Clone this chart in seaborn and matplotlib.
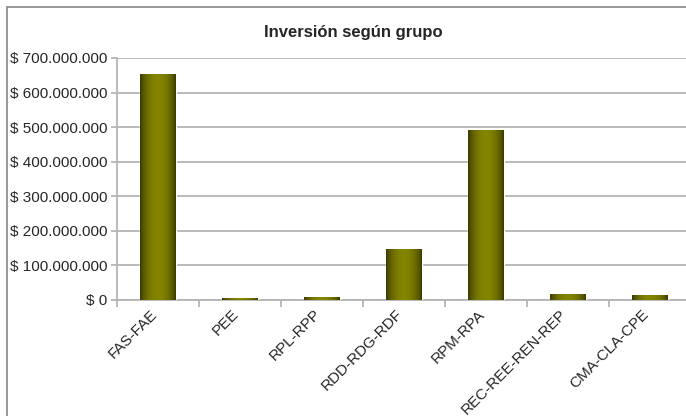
import numpy as np
import matplotlib
matplotlib.use("Agg")
import matplotlib.pyplot as plt
import matplotlib.transforms as mtransforms
from matplotlib.patches import Rectangle
import pandas as pd
import seaborn as sns

# Datos del gráfico
grupos = ["FAS-FAE", "PEE", "RPL-RPP", "RDD-RDG-RDF", "RPM-RPA", "REC-REE-REN-REP", "CMA-CLA-CPE"]
inversion = [652000000, 5500000, 8500000, 147000000, 489000000, 17000000, 14000000]
ticks_y = [0, 100000000, 200000000, 300000000, 400000000, 500000000, 600000000, 700000000]

df = pd.DataFrame({"grupo": grupos, "inversion": inversion})

sns.set_style("white")
plt.rcParams["font.family"] = ["Liberation Sans", "DejaVu Sans"]

fig = plt.figure(figsize=(6.86, 4.16), dpi=100)
ax = fig.add_axes([117 / 686, 1 - 300 / 416, (691 - 117) / 686, 242 / 416])

sns.barplot(data=df, x="grupo", y="inversion", color="#808000", width=0.43, ax=ax, zorder=3)

# Degradado oscuro-claro-oscuro en cada barra
t = np.linspace(0, 1, 64)
perfil = np.sin(np.pi * t) ** 0.7
oscuro = np.array([0.22, 0.22, 0.0])
claro = np.array([0.52, 0.52, 0.0])
grad = oscuro[None, :] + (claro - oscuro)[None, :] * perfil[:, None]
grad = grad[None, :, :]
for p in ax.patches:
    x0, w, h = p.get_x(), p.get_width(), p.get_height()
    ax.imshow(grad, extent=[x0, x0 + w, 0, h], aspect="auto", zorder=4)

ax.set_xlim(-0.5, len(grupos) - 0.5)
ax.set_ylim(0, 700000000)

# Ejes y cuadrícula
gris = "#b4b4b4"
ax.set_yticks(ticks_y)
etiquetas = ["$ 0" if v == 0 else "$ " + f"{v:,}".replace(",", ".") for v in ticks_y]
ax.set_yticklabels(etiquetas, fontsize=11)
ax.yaxis.grid(True, color=gris, linewidth=1.3, zorder=0)
ax.set_axisbelow(True)

ax.set_xticks(range(len(grupos)))
ax.set_xticklabels(grupos, rotation=45, ha="right", va="top", rotation_mode="anchor", fontsize=11)
ax.tick_params(axis="x", length=0, pad=5)
# correr un poco las etiquetas hacia la izquierda
desplaza = mtransforms.ScaledTranslation(-6 / 72, 0, fig.dpi_scale_trans)
for lbl in ax.get_xticklabels():
    lbl.set_transform(lbl.get_transform() + desplaza)
ax.set_xticks(np.arange(-0.5, len(grupos), 1), minor=True)
ax.tick_params(axis="x", which="minor", length=5, color=gris, width=1.3, direction="out", bottom=True)
ax.tick_params(axis="y", length=4, color=gris, width=1.3, direction="out", left=True, pad=3)

for lado in ["top", "right"]:
    ax.spines[lado].set_visible(False)
for lado in ["left", "bottom"]:
    ax.spines[lado].set_color(gris)
    ax.spines[lado].set_linewidth(1.3)

ax.set_xlabel("")
ax.set_ylabel("")

fig.text(353 / 686, 1 - 32 / 416, "Inversión según grupo", ha="center", va="center",
         fontsize=12, fontweight="bold")

# Marco del gráfico
fig.patches.append(Rectangle((7 / 686, -0.1), 1.2, 1 - 7 / 416 + 0.1, transform=fig.transFigure,
                             fill=False, edgecolor="#868686", linewidth=1.2))

fig.savefig("out.png", dpi=100)
